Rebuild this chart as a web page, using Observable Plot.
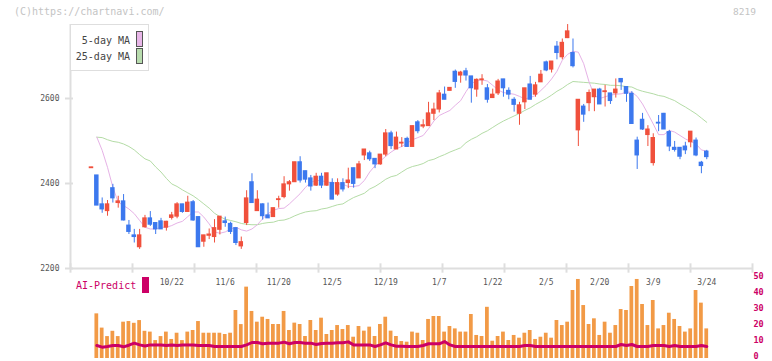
<!DOCTYPE html>
<html><head><meta charset="utf-8">
<script src="https://cdn.jsdelivr.net/npm/d3@7"></script>
<script src="https://cdn.jsdelivr.net/npm/@observablehq/plot@0.6"></script>
<style>
body{margin:0;background:#fff;}
#wrap{position:relative;width:772px;height:361px;overflow:hidden;font-family:"DejaVu Sans Mono",monospace;}
#wrap svg{position:absolute;left:0;top:0;}
.lbl{position:absolute;white-space:nowrap;line-height:1;}
</style></head><body><div id="wrap"></div>
<script>
// ---- data (candle 0 is the previous-close dash, then trading days 10/1 .. 3/24) ----
const candleStart = -1;
const opens  = [2436,2419,2351,2335,2389,2354,2358,2301,2278,2250,2297,2318,2307,2311,2296,2319,2322,2351,2333,2356,2321,2263,2277,2274,2291,2311,2305,2295,2252,2307,2403,2335,2351,2325,2321,2361,2368,2398,2403,2450,2429,2412,2395,2416,2395,2401,2374,2401,2401,2436,2412,2466,2471,2458,2445,2468,2518,2480,2494,2505,2486,2544,2534,2535,2564,2574,2609,2618,2663,2654,2664,2652,2621,2643,2624,2601,2612,2645,2618,2597,2564,2591,2633,2609,2638,2685,2668,2722,2697,2742,2707,2525,2581,2589,2603,2621,2615,2612,2612,2646,2627,2611,2501,2550,2514,2448,2543,2564,2521,2484,2484,2487,2497,2501,2449,2475];
const highs  = [2438,2419,2366,2360,2398,2370,2374,2313,2292,2292,2325,2334,2307,2318,2311,2332,2355,2351,2370,2360,2321,2278,2293,2315,2322,2321,2309,2296,2274,2383,2423,2383,2352,2354,2342,2370,2416,2407,2450,2463,2429,2419,2424,2424,2424,2411,2411,2411,2436,2436,2452,2480,2476,2458,2468,2527,2523,2521,2508,2509,2535,2548,2550,2591,2589,2619,2627,2625,2667,2664,2671,2652,2646,2656,2633,2622,2645,2645,2625,2602,2591,2624,2652,2638,2666,2688,2687,2734,2740,2774,2740,2597,2586,2620,2621,2624,2631,2612,2646,2646,2627,2616,2509,2565,2536,2517,2560,2565,2525,2499,2484,2497,2522,2507,2452,2478];
const lows   = [2436,2348,2330,2323,2354,2342,2312,2280,2260,2245,2295,2299,2280,2292,2288,2314,2317,2330,2332,2311,2250,2250,2268,2260,2279,2297,2280,2254,2245,2301,2354,2335,2314,2318,2321,2342,2364,2382,2403,2401,2401,2382,2393,2388,2393,2362,2370,2380,2388,2389,2412,2454,2452,2435,2443,2463,2480,2480,2485,2486,2486,2517,2529,2535,2548,2566,2597,2618,2624,2636,2641,2589,2603,2631,2589,2601,2607,2603,2597,2568,2537,2574,2597,2603,2638,2663,2660,2691,2691,2741,2672,2487,2544,2569,2569,2586,2580,2586,2601,2619,2591,2539,2433,2525,2487,2441,2522,2527,2475,2474,2456,2468,2484,2463,2423,2456];
const closes = [2438,2348,2339,2351,2365,2358,2313,2286,2274,2278,2318,2303,2292,2292,2310,2325,2351,2333,2355,2313,2250,2278,2280,2295,2322,2307,2286,2260,2262,2365,2354,2362,2323,2318,2342,2363,2398,2403,2450,2407,2409,2393,2416,2395,2424,2362,2401,2386,2407,2399,2445,2480,2457,2445,2468,2518,2488,2508,2496,2486,2535,2523,2537,2565,2574,2612,2597,2625,2639,2661,2654,2624,2644,2645,2597,2609,2640,2624,2609,2585,2584,2624,2597,2631,2656,2666,2687,2707,2731,2758,2676,2597,2562,2613,2621,2586,2617,2594,2621,2638,2611,2540,2466,2527,2527,2507,2541,2527,2487,2479,2463,2478,2522,2466,2441,2462];
// per trading day 10/1 .. 3/24
const volumes = [27.9,19,13.7,17,13.7,22.7,23.1,22,23.7,17,16.5,11.2,13.7,16.5,11.9,15.8,11.2,16.5,17.5,23.1,15.8,15.8,15.8,15.8,15,15.8,30,21.2,44.6,29.4,22.7,25.8,24.4,21.25,21.25,29.4,17.5,22.1,21.25,13.75,23.75,17.5,25.2,15,17.5,20.6,18.1,20.6,13.3,20,17.1,19.6,13.75,21.25,25.8,17.1,13.75,10.6,10.2,16.5,15.8,11.25,24.4,26.25,26.25,16.5,20,18.5,16.5,16.5,27.5,14.4,13.75,32,10.8,13.75,16.5,11.25,14.4,12.7,15.8,17.5,11.9,13.3,15.8,12.7,23.75,20.6,22.7,42.5,49.4,33.1,21.25,24.8,14.4,22.7,15.8,20.6,30.6,30,45,49.4,33.75,20.6,36.25,18.5,20.6,28.3,24.4,20,16.5,18.5,42.5,34.6,18.5];
const aiPredict = [8.1,7.1,7.5,8.1,8.1,7.3,8.3,9.6,8.5,7.8,8.5,8.5,8.5,8.1,8.5,8.1,8.5,8.5,8.5,8.1,8.1,8.1,7.5,7.5,7.5,7.5,7.5,7.5,8.5,10,10,9.2,9.6,9.6,9.6,10.2,9.2,10,10,9.6,9.6,8.8,9.4,9.6,9.6,9.8,9.8,10.4,8.5,8.5,8.5,8.5,7.5,8.5,9.8,8.5,7.7,7.7,7.5,7.5,7.5,8.1,9.2,9.2,9.2,10.6,8.5,7.5,7.5,7.5,7.5,7.5,7.5,7.5,7.5,7.5,7.5,7.5,7.5,7.5,8.1,8.1,7.5,7.5,7.5,7.5,7.5,7.5,7.5,7.5,7.5,7.5,7.5,7.5,7.5,7.5,7.5,7.5,8.75,8.1,8.75,7.5,7.5,7.5,8.1,8.1,8.1,7.5,8.1,7.5,7.5,7.5,7.5,8.1,7.5];
const ma5 = [2509,2478,2438,2391,2356,2348,2340,2329,2313,2297,2293,2293,2297,2297,2301,2307,2311,2322,2333,2333,2321,2305,2286,2283,2286,2293,2297,2291,2288,2293,2303,2317,2329,2337,2341,2342,2352,2364,2376,2391,2403,2407,2407,2403,2403,2399,2398,2393,2393,2395,2407,2427,2442,2453,2464,2474,2482,2487,2495,2503,2508,2513,2529,2547,2560,2566,2572,2584,2595,2616,2635,2642,2644,2641,2631,2620,2614,2612,2610,2605,2599,2602,2607,2619,2631,2646,2664,2690,2704,2711,2709,2682,2639,2607,2600,2604,2608,2610,2611,2615,2615,2605,2587,2564,2540,2515,2515,2525,2521,2513,2505,2499,2493,2479,2476];
const ma25 = [2509,2508,2503,2499,2497,2493,2487,2479,2468,2458,2453,2439,2427,2412,2399,2393,2385,2378,2371,2362,2352,2342,2330,2322,2316,2313,2310,2306,2304,2303,2303,2306,2308,2309,2313,2314,2318,2324,2329,2333,2335,2336,2340,2342,2346,2350,2352,2360,2367,2372,2377,2387,2393,2401,2410,2416,2419,2427,2435,2440,2443,2447,2454,2457,2463,2468,2474,2479,2484,2496,2504,2510,2518,2524,2532,2540,2547,2553,2559,2565,2572,2578,2586,2593,2600,2608,2617,2624,2633,2640,2639,2638,2637,2636,2634,2633,2631,2631,2630,2628,2627,2621,2617,2614,2611,2607,2605,2600,2595,2587,2580,2572,2564,2554,2544];
const dateLabels = ["10/22","11/6","11/20","12/5","12/19","1/7","1/22","2/5","2/20","3/9","3/24"];
const dateLabelDay = [14,24,34,44,54,64,74,84,94,104,114];
const priceTicks = [2200,2400,2600];
const volumeTicks = [0,10,20,30,40,50];

// ---- layout / style ----
const X_DOMAIN = [-4.92, 122.55];
const X_RANGE = [70, 752];
const RED = "#f0503c", BLUE = "#3c78ee";
const GRID = "#dedede";
const FONT = "DejaVu Sans Mono, monospace";

const candles = opens.map((o, k) => ({i: k + candleStart, o, h: highs[k], l: lows[k], c: closes[k]}));
const days = volumes.map((v, k) => ({i: k, v, a: aiPredict[k], m5: ma5[k], m25: ma25[k]}));
const colorOf = d => d.c >= d.o ? RED : BLUE;
const nTicks = 11;
const xTicks = d3.range(nTicks + 1).map(k => X_DOMAIN[0] + k * (X_DOMAIN[1] - X_DOMAIN[0]) / nTicks);

const wrap = document.getElementById("wrap");

const main = Plot.plot({
  width: 772, height: 361, margin: 0,
  style: {background: "transparent", fontFamily: FONT, overflow: "visible"},
  x: {type: "linear", domain: X_DOMAIN, range: X_RANGE, axis: null},
  y: {type: "linear", domain: [2200, 2800], range: [268, 13], axis: null},
  color: {type: "identity"},
  marks: [
    Plot.ruleY([2200], {x1: X_DOMAIN[0], x2: X_DOMAIN[1], stroke: GRID, strokeWidth: 2}),
    Plot.ruleX([X_DOMAIN[0]], {y1: 2200, y2: 2774, stroke: GRID, strokeWidth: 2}),
    Plot.ruleX(xTicks, {x: d => d, y1: 2189, y2: 2211, stroke: GRID, strokeWidth: 2}),
    Plot.ruleY(priceTicks, {y: d => d, x1: X_DOMAIN[0] - 0.93, x2: X_DOMAIN[0] + 0.56, stroke: GRID, strokeWidth: 2}),
    Plot.text(priceTicks, {x: X_DOMAIN[0], y: d => d, dx: -11, text: d => String(d), textAnchor: "end", fontSize: 8, fill: "#555"}),
    Plot.text(dateLabels, {x: (d, k) => dateLabelDay[k], y: 2200, dy: 14, text: d => d, fontSize: 8, fill: "#555"}),
    Plot.line(days, {x: "i", y: "m25", stroke: "#b4dca6", strokeWidth: 1}),
    Plot.line(days, {x: "i", y: "m5", stroke: "#e6b2e6", strokeWidth: 1}),
    Plot.ruleX(candles, {x: "i", y1: "l", y2: "h", stroke: colorOf, strokeWidth: 1}),
    Plot.rect(candles, {x1: d => d.i - 0.42, x2: d => d.i + 0.42, y1: "o", y2: "c", fill: colorOf, insetTop: -0.5, insetBottom: -0.5})
  ]
});
wrap.appendChild(main);

const vol = Plot.plot({
  width: 772, height: 361, margin: 0,
  style: {background: "transparent", fontFamily: FONT, overflow: "visible"},
  x: {type: "linear", domain: X_DOMAIN, range: X_RANGE, axis: null},
  y: {type: "linear", domain: [0, 50], range: [358, 278], axis: null},
  marks: [
    Plot.rect(days, {x1: d => d.i - 0.35, x2: d => d.i + 0.35, y1: 0, y2: "v", fill: "#f29a46"}),
    Plot.line(days, {x: "i", y: "a", stroke: "#cc0066", strokeWidth: 3}),
    Plot.text(volumeTicks, {x: X_DOMAIN[1], y: d => d, dx: 1, dy: -2, text: d => String(d), textAnchor: "start", fontSize: 8.5, fontWeight: "bold", fill: "#cc0066"})
  ]
});
wrap.appendChild(vol);

function label(text, css) {
  const el = document.createElement("div");
  el.className = "lbl";
  el.textContent = text;
  Object.assign(el.style, css);
  wrap.appendChild(el);
  return el;
}
label("(C)https://chartnavi.com/", {left: "14px", top: "7px", fontSize: "10px", color: "#c4c4c4"});
label("8219", {left: "733px", top: "7px", fontSize: "9.5px", color: "#c4c4c4"});
const box = document.createElement("div");
Object.assign(box.style, {position: "absolute", left: "70px", top: "24px", width: "79px", height: "47px", boxSizing: "border-box", border: "1px solid #dedede", background: "#fff"});
wrap.appendChild(box);
label("5-day MA", {right: (772 - 130) + "px", top: "36px", fontSize: "10px", color: "#444"});
label("25-day MA", {right: (772 - 130) + "px", top: "52px", fontSize: "10px", color: "#444"});
function swatch(top, color) {
  const s = document.createElement("div");
  Object.assign(s.style, {position: "absolute", left: "136px", top: top + "px", width: "7px", height: "16px", boxSizing: "border-box", border: "1px solid #555", background: color});
  wrap.appendChild(s);
}
swatch(31, "#e8b6e8");
swatch(48, "#b8dcae");
label("AI-Predict", {left: "76px", top: "281px", fontSize: "10px", color: "#cc0066"});
const ai = document.createElement("div");
Object.assign(ai.style, {position: "absolute", left: "142px", top: "277px", width: "7px", height: "16px", background: "#cc0066"});
wrap.appendChild(ai);
</script></body></html>
